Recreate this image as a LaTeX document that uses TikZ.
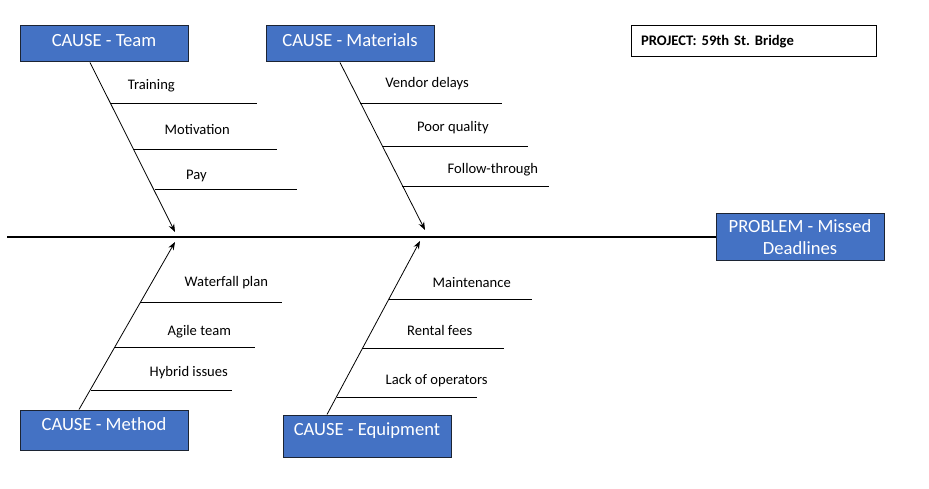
\documentclass[tikz,border=0pt]{standalone}
\usepackage{fontspec}
\setmainfont{Carlito}
\usepackage{tikz}
\usetikzlibrary{
        arrows.meta,
        positioning
    }
\frenchspacing
\definecolor{causeblue}{HTML}{4472C4}
\definecolor{causeedge}{HTML}{1C2433}
\tikzset{>={Stealth[length=8pt,width=6pt]},shorten >=0pt}
\tikzset{causebox/.style={draw=causeedge,fill=causeblue,line width=1pt,minimum width=168pt,inner sep=0pt}}
\tikzset{boxtext/.style={anchor=north,inner sep=0pt,text height=11pt,text=white,font=\fontsize{18.6}{22}\selectfont}}
\tikzset{ribtext/.style={anchor=base west,inner sep=0pt,font=\fontsize{14.6}{17}\selectfont}}
\tikzset{rib/.style={line width=0.8pt}}

\begin{document}
\begin{tikzpicture}[x=1pt,y=-1pt,line width=0.8pt]
                \useasboundingbox (0,0) rectangle (929,489);
                % cause boxes
                \node[causebox,minimum height=36pt] (team) at (104,44) {};
                \node[boxtext] (teamtxt) at ([yshift=-9.5pt]team.north) {CAUSE - Team};
                \node[causebox,minimum height=36pt] (materials) at (350,44) {};
                \node[boxtext] (materialstxt) at ([yshift=-9.5pt]materials.north) {CAUSE - Materials};
                \node[causebox,minimum height=40pt] (method) at (104,430) {};
                \node[boxtext] (methodtxt) at ([yshift=-9.5pt]method.north) {CAUSE - Method};
                \node[causebox,minimum height=42pt] (equipment) at (367,436) {};
                \node[boxtext] (equipmenttxt) at ([yshift=-9.5pt]equipment.north) {CAUSE - Equipment};
                % problem and project
                \node[causebox,minimum height=46pt,text=white,align=center,
                      font=\fontsize{18.6}{22}\selectfont] (problem) at (800,237)
                      {PROBLEM - Missed\\Deadlines};
                \node[draw=black,line width=1pt,minimum width=245pt,minimum height=31pt,
                      inner xsep=10pt,text width=225pt,align=left,
                      font=\bfseries\fontsize{14.6}{17}\selectfont] (project) at (753.5,41.5)
                      {PROJECT: 59th St. Bridge};
                % spine
                \coordinate (spinestart) at (7,237);
                \draw[line width=2.2pt] (spinestart) -- (problem.west |- spinestart);
                % bones
                \coordinate (teamtip) at (175,232);
                \coordinate (materialstip) at (425,230);
                \coordinate (methodtip) at (175,242);
                \coordinate (equipmenttip) at (420,241);
                \path[->]
                        ([xshift=-14pt]team.south) edge (teamtip)
                        ([xshift=-10pt]materials.south) edge (materialstip)
                        ([xshift=-25pt]method.north) edge (methodtip)
                        ([xshift=-40pt]equipment.north) edge (equipmenttip)
                ;
                % ribs - team
                \coordinate (t1a) at (110,103); \coordinate (t1b) at (257,103);
                \coordinate (t2a) at (133,149); \coordinate (t2b) at (277,149);
                \coordinate (t3a) at (155,189); \coordinate (t3b) at (297,189);
                \draw[rib] (t1a) -- (t1b);
                \draw[rib] (t2a) -- (t2b);
                \draw[rib] (t3a) -- (t3b);
                \node[ribtext] (training) at (127.5,90) {Training};
                \node[ribtext] (motivation) at (164.3,135) {Motivation};
                \node[ribtext] (pay) at (185.7,179.5) {Pay};
                % ribs - materials
                \coordinate (m1a) at (360,103); \coordinate (m1b) at (502,103);
                \coordinate (m2a) at (382,146); \coordinate (m2b) at (528,146);
                \coordinate (m3a) at (402,186); \coordinate (m3b) at (549,186);
                \draw[rib] (m1a) -- (m1b);
                \draw[rib] (m2a) -- (m2b);
                \draw[rib] (m3a) -- (m3b);
                \node[ribtext] (vendor) at (385,87.7) {Vendor delays};
                \node[ribtext] (quality) at (416.7,131.7) {Poor quality};
                \node[ribtext] (follow) at (447.3,173.3) {Follow-through};
                % ribs - method
                \coordinate (h1a) at (140,302); \coordinate (h1b) at (282,302);
                \coordinate (h2a) at (115,347); \coordinate (h2b) at (255,347);
                \coordinate (h3a) at (91,390); \coordinate (h3b) at (232,390);
                \draw[rib] (h1a) -- (h1b);
                \draw[rib] (h2a) -- (h2b);
                \draw[rib] (h3a) -- (h3b);
                \node[ribtext] (waterfall) at (184.3,286) {Waterfall plan};
                \node[ribtext] (agile) at (167.3,335) {Agile team};
                \node[ribtext] (hybrid) at (149.3,376) {Hybrid issues};
                % ribs - equipment
                \coordinate (e1a) at (389,299); \coordinate (e1b) at (532,299);
                \coordinate (e2a) at (362,348); \coordinate (e2b) at (504,348);
                \coordinate (e3a) at (337,397); \coordinate (e3b) at (477,397);
                \draw[rib] (e1a) -- (e1b);
                \draw[rib] (e2a) -- (e2b);
                \draw[rib] (e3a) -- (e3b);
                \node[ribtext] (maintenance) at (432.3,287.3) {Maintenance};
                \node[ribtext] (rental) at (406.7,335) {Rental fees};
                \node[ribtext] (operators) at (385.3,384) {Lack of operators};
            \end{tikzpicture}
\end{document}
